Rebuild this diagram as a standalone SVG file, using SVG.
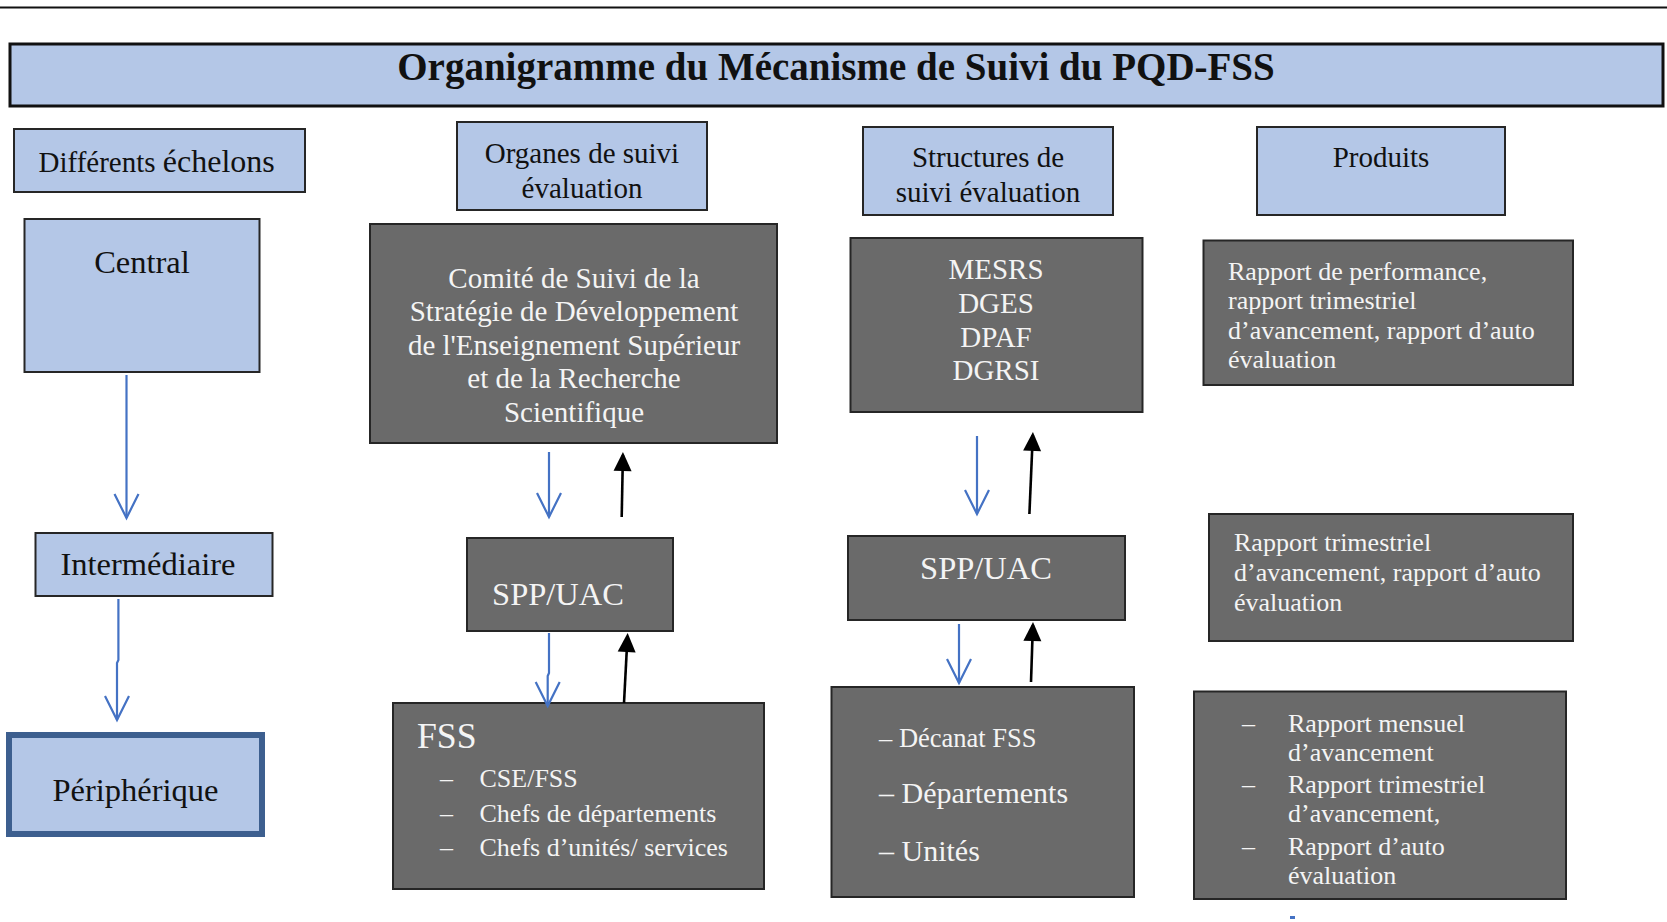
<svg xmlns="http://www.w3.org/2000/svg" width="1667" height="922" viewBox="0 0 1667 922">
<style>
.lb{fill:#b4c7e7;stroke:#262626;stroke-width:2}
.dg{fill:#6a6a6a;stroke:#262626;stroke-width:2}
text{font-family:"Liberation Serif","Times New Roman",serif}
.k{fill:#111}
.w{fill:#f4f4f4}
.c{text-anchor:middle}
.blue{stroke:#4472c4;stroke-width:2.2;fill:none;marker-end:url(#vb)}
.blk{stroke:#000;stroke-width:2.6;fill:none;marker-end:url(#tb)}
</style>
<defs>
<marker id="vb" markerUnits="userSpaceOnUse" markerWidth="30" markerHeight="30" refX="0" refY="0" orient="auto" overflow="visible">
<path d="M-24,-12 L0,0 L-24,12" fill="none" stroke="#4472c4" stroke-width="2.2"/>
</marker>
<marker id="tb" markerUnits="userSpaceOnUse" markerWidth="30" markerHeight="30" refX="0" refY="0" orient="auto" overflow="visible">
<path d="M-16,-9 L3,0 L-16,9 Z" fill="#000"/>
</marker>
</defs>
<rect width="1667" height="922" fill="#fff"/>
<line x1="0" y1="7.5" x2="1667" y2="7.5" stroke="#111" stroke-width="2"/>

<g id="title">
<rect x="10" y="44" width="1653" height="62" fill="#b4c7e7" stroke="#111" stroke-width="3"/>
<text x="836" y="80" class="c k" font-size="39" font-weight="bold">Organigramme du Mécanisme de Suivi du PQD-FSS</text>
</g>

<g id="h-echelons">
<rect x="14" y="129" width="291" height="63" class="lb"/>
<text x="38.5" y="172" class="k" font-size="29">Différents <tspan font-size="32">échelons</tspan></text>
</g>
<g id="h-organes">
<rect x="457" y="122" width="250" height="88" class="lb"/>
<text x="582" y="163" class="c k" font-size="29">Organes de suivi</text>
<text x="582" y="198" class="c k" font-size="29">évaluation</text>
</g>
<g id="h-structures">
<rect x="863" y="127" width="250" height="88" class="lb"/>
<text x="988" y="167" class="c k" font-size="29">Structures de</text>
<text x="988" y="202" class="c k" font-size="29">suivi évaluation</text>
</g>
<g id="h-produits">
<rect x="1257" y="127" width="248" height="88" class="lb"/>
<text x="1381" y="167" class="c k" font-size="29">Produits</text>
</g>

<g id="central">
<rect x="24.5" y="219" width="235" height="153" class="lb"/>
<text x="142" y="273" class="c k" font-size="32.5">Central</text>
</g>
<g id="intermediaire">
<rect x="35.5" y="533" width="237" height="63" class="lb"/>
<text x="148" y="575" class="c k" font-size="32.5">Intermédiaire</text>
</g>
<g id="peripherique">
<rect x="9" y="735" width="253" height="99" fill="#b4c7e7" stroke="#3d5f8f" stroke-width="6"/>
<text x="135.5" y="800.5" class="c k" font-size="32.5">Périphérique</text>
</g>

<g id="comite">
<rect x="370" y="224" width="407" height="219" class="dg"/>
<text x="574" y="288" class="c w" font-size="29">Comité de Suivi de la</text>
<text x="574" y="321" class="c w" font-size="29">Stratégie de Développement</text>
<text x="574" y="355" class="c w" font-size="29">de l'Enseignement Supérieur</text>
<text x="574" y="388" class="c w" font-size="29">et de la Recherche</text>
<text x="574" y="422" class="c w" font-size="29">Scientifique</text>
</g>
<g id="spp1">
<rect x="467" y="538" width="206" height="93" class="dg"/>
<text x="558" y="605" class="c w" font-size="32.5">SPP/UAC</text>
</g>
<g id="fss">
<rect x="393" y="703" width="371" height="186" class="dg"/>
<text x="417" y="748" class="w" font-size="35.7">FSS</text>
<text x="440" y="787" class="w" font-size="26">–</text>
<text x="479.5" y="787" class="w" font-size="26">CSE/FSS</text>
<text x="440" y="822" class="w" font-size="26">–</text>
<text x="479.5" y="822" class="w" font-size="26">Chefs de départements</text>
<text x="440" y="856" class="w" font-size="26">–</text>
<text x="479.5" y="856" class="w" font-size="26">Chefs d’unités/ services</text>
</g>

<g id="mesrs">
<rect x="850.5" y="238" width="292" height="174" class="dg"/>
<text x="996" y="279" class="c w" font-size="29">MESRS</text>
<text x="996" y="312.5" class="c w" font-size="29">DGES</text>
<text x="996" y="346.5" class="c w" font-size="29">DPAF</text>
<text x="996" y="379.5" class="c w" font-size="29">DGRSI</text>
</g>
<g id="spp2">
<rect x="848" y="536" width="277" height="84" class="dg"/>
<text x="986" y="579" class="c w" font-size="32.5">SPP/UAC</text>
</g>
<g id="decanat">
<rect x="831.5" y="687" width="302.5" height="210" class="dg"/>
<text x="879" y="746.5" class="w" font-size="26.5">– Décanat FSS</text>
<text x="879" y="803" class="w" font-size="30">– Départements</text>
<text x="879" y="861" class="w" font-size="30">– Unités</text>
</g>

<g id="produit1">
<rect x="1203.5" y="240.5" width="369.5" height="144.5" class="dg"/>
<text x="1228" y="280" class="w" font-size="26">Rapport de performance,</text>
<text x="1228" y="309" class="w" font-size="26">rapport trimestriel</text>
<text x="1228" y="338.5" class="w" font-size="26">d’avancement, rapport d’auto</text>
<text x="1228" y="367.5" class="w" font-size="26">évaluation</text>
</g>
<g id="produit2">
<rect x="1209" y="514" width="364" height="127" class="dg"/>
<text x="1234" y="551" class="w" font-size="26">Rapport trimestriel</text>
<text x="1234" y="581" class="w" font-size="26">d’avancement, rapport d’auto</text>
<text x="1234" y="611" class="w" font-size="26">évaluation</text>
</g>
<g id="produit3">
<rect x="1194" y="691.5" width="372" height="207.5" class="dg"/>
<text x="1242" y="731.5" class="w" font-size="26">–</text>
<text x="1288" y="731.5" class="w" font-size="26">Rapport mensuel</text>
<text x="1288" y="761" class="w" font-size="26">d’avancement</text>
<text x="1242" y="793.3" class="w" font-size="26">–</text>
<text x="1288" y="793.3" class="w" font-size="26">Rapport trimestriel</text>
<text x="1288" y="822" class="w" font-size="26">d’avancement,</text>
<text x="1242" y="855" class="w" font-size="26">–</text>
<text x="1288" y="855" class="w" font-size="26">Rapport d’auto</text>
<text x="1288" y="884" class="w" font-size="26">évaluation</text>
</g>

<g id="connectors">
<path class="blue" d="M126.5,375 L126.5,518"/>
<path class="blue" d="M118.4,599 L118.4,660 L117,663 L117,720"/>
<path class="blue" d="M549,452 L549,517"/>
<path class="blk" d="M621.7,517 L622.9,455"/>
<path class="blue" d="M549,633 L549,673 L547.7,676 L547.7,706"/>
<path class="blk" d="M624,703 L627.5,636"/>
<path class="blue" d="M977,436 L977,514"/>
<path class="blk" d="M1029.4,514 L1032.8,435"/>
<path class="blue" d="M959,624 L959,683"/>
<path class="blk" d="M1031,682 L1032.9,625"/>
</g>
<rect x="1290" y="916" width="5" height="3" fill="#4472c4"/>
</svg>
